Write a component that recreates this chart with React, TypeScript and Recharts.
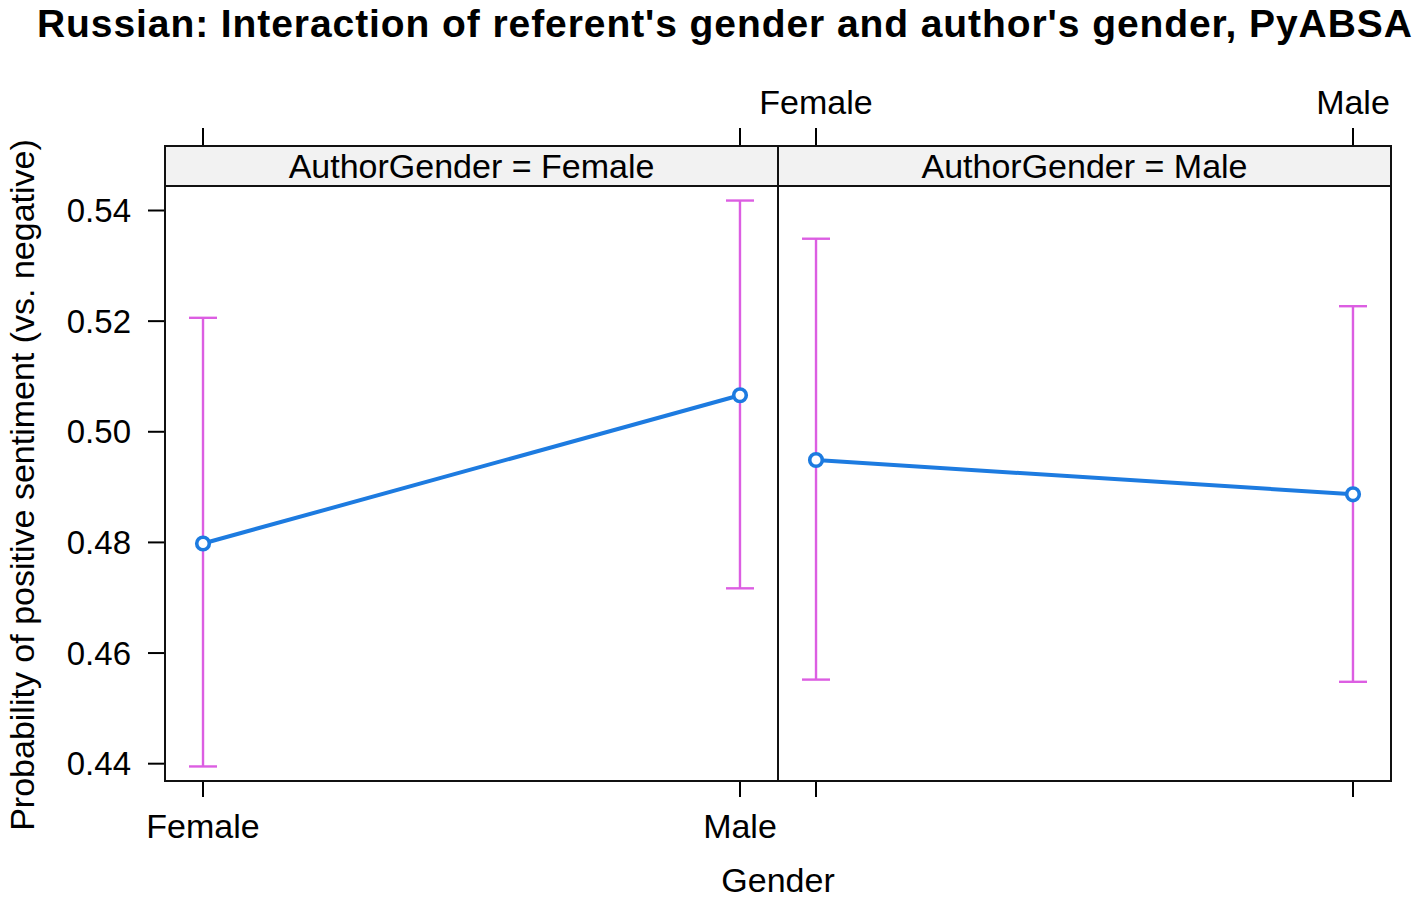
import { ComposedChart, Line, ErrorBar, XAxis, YAxis } from "recharts";

const genderLevels = ["Female", "Male"];
const authorPanels = ["Female", "Male"];

// effect estimates, one array per author-gender panel (Female referent, Male referent)
const fitFemaleAuthor = [0.4798, 0.5066];
const lowerFemaleAuthor = [0.4395, 0.4717];
const upperFemaleAuthor = [0.5206, 0.5418];
const fitMaleAuthor = [0.4949, 0.4887];
const lowerMaleAuthor = [0.4552, 0.4548];
const upperMaleAuthor = [0.5349, 0.5227];

const yTicks = [0.44, 0.46, 0.48, 0.5, 0.52, 0.54];

const W = 1417;
const H = 899;
const FONT = "'Liberation Sans', Arial, Helvetica, sans-serif";
const BLUE = "#1d7be0";
const MAGENTA = "#dc5ee2";

// lattice-style padding on either side of the two factor levels
const pad = 0.0708;
const span = 1 + 2 * pad;
const xPos = (panel: number, level: number) => panel * span + level;

function panelData(fit: number[], lower: number[], upper: number[], panel: number) {
  return fit.map((v, i) => ({
    x: xPos(panel, i),
    fit: v,
    err: [v - lower[i], upper[i] - v],
  }));
}

const femaleAuthorData = panelData(fitFemaleAuthor, lowerFemaleAuthor, upperFemaleAuthor, 0);
const maleAuthorData = panelData(fitMaleAuthor, lowerMaleAuthor, upperMaleAuthor, 1);

const xTicks = authorPanels.flatMap((_, p) => genderLevels.map((_, i) => xPos(p, i)));
const xLabel = (index: number) => genderLevels[index % genderLevels.length];

const plotLeft = 165;
const plotRight = 1391;
const plotTop = 186;
const plotBottom = 781;
const stripTop = 146;
const panelWidth = (plotRight - plotLeft) / 2;

function BottomTick(props: any) {
  const { x, y, index } = props;
  if (index > 1) return <g />;
  return (
    <text x={x} y={y} dy="0.71em" textAnchor="middle" fontSize={34} fontFamily={FONT} fill="#000">
      {xLabel(index)}
    </text>
  );
}

function TopTick(props: any) {
  const { x, y, index } = props;
  if (index < 2) return <g />;
  return (
    <text x={x} y={y} textAnchor="middle" fontSize={34} fontFamily={FONT} fill="#000">
      {xLabel(index)}
    </text>
  );
}

function LeftTick(props: any) {
  const { x, y, payload } = props;
  return (
    <text x={x} y={y} dy="0.355em" textAnchor="end" fontSize={33} fontFamily={FONT} fill="#000">
      {payload.value.toFixed(2)}
    </text>
  );
}

const dot = { r: 6.3, stroke: BLUE, strokeWidth: 3.6, fill: "#fff" };

export default function App() {
  const tickLine = { stroke: "#000", strokeWidth: 2 };
  return (
    <div style={{ position: "absolute", left: 0, top: 0, width: W, height: H, background: "#fff", fontFamily: FONT }}>
      <div
        style={{
          position: "absolute",
          left: 37,
          width: 1373,
          top: 2,
          textAlign: "center",
          fontWeight: "bold",
          fontSize: 39,
          letterSpacing: 0.92,
          whiteSpace: "nowrap",
        }}
      >
        Russian: Interaction of referent's gender and author's gender, PyABSA
      </div>

      <ComposedChart width={W} height={H} margin={{ top: 0, right: 0, bottom: 0, left: 0 }} style={{ position: "absolute", left: 0, top: 0 }}>
        <XAxis
          xAxisId="bottom"
          type="number"
          dataKey="x"
          orientation="bottom"
          domain={[-pad, 2 * span - pad]}
          ticks={xTicks}
          height={H - plotBottom}
          axisLine={false}
          tickLine={tickLine}
          tickSize={16}
          tickMargin={17}
          tick={BottomTick}
          interval={0}
          allowDataOverflow
        />
        <XAxis
          xAxisId="top"
          type="number"
          dataKey="x"
          orientation="top"
          domain={[-pad, 2 * span - pad]}
          ticks={xTicks}
          height={plotTop}
          axisLine={false}
          tickLine={tickLine}
          tickSize={plotTop - 128}
          tickMargin={14}
          tick={TopTick}
          interval={0}
          allowDataOverflow
        />
        <YAxis
          yAxisId="left"
          type="number"
          orientation="left"
          domain={[0.43687, 0.54443]}
          ticks={yTicks}
          width={plotLeft}
          axisLine={false}
          tickLine={tickLine}
          tickSize={17}
          tickMargin={17}
          tick={LeftTick}
          interval={0}
          allowDataOverflow
        />
        <YAxis
          yAxisId="right"
          type="number"
          orientation="right"
          domain={[0.43687, 0.54443]}
          ticks={yTicks}
          width={W - plotRight}
          axisLine={false}
          tickLine={tickLine}
          tickSize={16}
          tick={false}
          interval={0}
          allowDataOverflow
        />
        <Line
          data={femaleAuthorData}
          dataKey="fit"
          xAxisId="bottom"
          yAxisId="left"
          stroke={BLUE}
          strokeWidth={4}
          dot={dot}
          isAnimationActive={false}
        >
          <ErrorBar dataKey="err" direction="y" width={14} stroke={MAGENTA} strokeWidth={2.4} />
        </Line>
        <Line
          data={maleAuthorData}
          dataKey="fit"
          xAxisId="top"
          yAxisId="right"
          stroke={BLUE}
          strokeWidth={4}
          dot={dot}
          isAnimationActive={false}
        >
          <ErrorBar dataKey="err" direction="y" width={14} stroke={MAGENTA} strokeWidth={2.4} />
        </Line>
      </ComposedChart>

      {authorPanels.map((name, p) => (
        <div key={name}>
          <div
            style={{
              position: "absolute",
              left: plotLeft + p * panelWidth - 1,
              top: stripTop - 1,
              width: panelWidth + 2,
              height: plotBottom - stripTop + 2,
              border: "2px solid #111",
              boxSizing: "border-box",
              pointerEvents: "none",
            }}
          />
          <div
            style={{
              position: "absolute",
              left: plotLeft + p * panelWidth - 1,
              top: stripTop - 1,
              width: panelWidth + 2,
              height: plotTop - stripTop + 2,
              border: "2px solid #111",
              boxSizing: "border-box",
              background: "#f2f2f2",
              fontSize: 34,
              lineHeight: `${plotTop - stripTop - 2}px`,
              textAlign: "center",
            }}
          >
            AuthorGender = {name}
          </div>
        </div>
      ))}

      <div style={{ position: "absolute", left: plotLeft, width: plotRight - plotLeft, top: 861, textAlign: "center", fontSize: 34, lineHeight: "38px" }}>
        Gender
      </div>
      <div
        style={{
          position: "absolute",
          left: 22,
          top: 485,
          transform: "translate(-50%, -50%) rotate(-90deg)",
          whiteSpace: "nowrap",
          fontSize: 34,
          lineHeight: "40px",
        }}
      >
        Probability of positive sentiment (vs. negative)
      </div>
    </div>
  );
}
